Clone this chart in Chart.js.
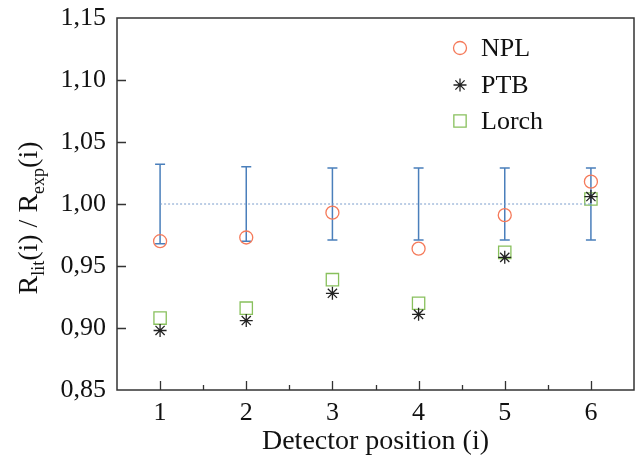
<!DOCTYPE html>
<html><head><meta charset="utf-8">
<script src="https://cdn.jsdelivr.net/npm/chart.js@4/dist/chart.umd.min.js"></script>
<style>html,body{margin:0;padding:0;background:#fff}#w{width:638px;height:463px}</style>
</head><body><div id="w"><canvas id="c" width="638" height="463"></canvas></div>
<script>
const positions = [1, 2, 3, 4, 5, 6];
const npl   = [0.970, 0.973, 0.993, 0.964, 0.991, 1.018];
const ptb   = [0.898, 0.906, 0.928, 0.911, 0.957, 1.006];
const lorch = [0.908, 0.916, 0.939, 0.920, 0.961, 1.004];
const refValue = 1.00;
const errHalf = [0.032, 0.030, 0.029, 0.029, 0.029, 0.029];
const xTicks = [1, 2, 3, 4, 5, 6];
const xMinorTicks = [1.5, 2.5, 3.5, 4.5, 5.5];
const yTicks = [0.85, 0.90, 0.95, 1.00, 1.05, 1.10, 1.15];
const seriesNames = ['NPL', 'PTB', 'Lorch'];
const xTitle = 'Detector position (i)';

const FONT = '"Liberation Serif", "DejaVu Serif", serif';
const blue = '#4a7fbb';
const toPts = arr => arr.map((v, i) => ({x: positions[i], y: v}));

const errorBars = {
  id: 'errorBars',
  beforeDatasetsDraw(chart) {
    const {ctx, scales: {x, y}} = chart;
    ctx.save();
    ctx.strokeStyle = blue; ctx.lineWidth = 1.5;
    positions.forEach((p, i) => {
      const px = x.getPixelForValue(p);
      const yt = y.getPixelForValue(refValue + errHalf[i]);
      const yb = y.getPixelForValue(refValue - errHalf[i]);
      ctx.beginPath();
      ctx.moveTo(px, yt); ctx.lineTo(px, yb);
      ctx.moveTo(px - 5, yt); ctx.lineTo(px + 5, yt);
      ctx.moveTo(px - 5, yb); ctx.lineTo(px + 5, yb);
      ctx.stroke();
    });
    ctx.restore();
  }
};

const innerTicks = {
  id: 'innerTicks',
  afterDraw(chart) {
    const {ctx, chartArea: a, scales: {x, y}} = chart;
    ctx.save();
    ctx.strokeStyle = '#333'; ctx.lineWidth = 1.3;
    ctx.beginPath();
    xTicks.forEach(t => { const px = Math.round(x.getPixelForValue(t)) + 0.5; ctx.moveTo(px, a.bottom); ctx.lineTo(px, a.bottom - 9); });
    xMinorTicks.forEach(t => { const px = Math.round(x.getPixelForValue(t)) + 0.5; ctx.moveTo(px, a.bottom); ctx.lineTo(px, a.bottom - 5); });
    yTicks.slice(1, -1).forEach(t => { const py = Math.round(y.getPixelForValue(t)) + 0.5; ctx.moveTo(a.left, py); ctx.lineTo(a.left + 9, py); });
    ctx.stroke();
    ctx.lineWidth = 1.5;
    ctx.strokeRect(a.left, a.top, a.right - a.left, a.bottom - a.top);
    ctx.restore();
  }
};

const yTitlePlugin = {
  id: 'yTitle',
  afterDraw(chart) {
    const {ctx, chartArea: a} = chart;
    const parts = [['R', 0], ['lit', 1], ['(i) / R', 0], ['exp', 1], ['(i)', 0]];
    const big = '28px ' + FONT, small = '18px ' + FONT;
    ctx.save();
    let total = 0;
    parts.forEach(([t, s]) => { ctx.font = s ? small : big; total += ctx.measureText(t).width; });
    ctx.translate(37, (a.top + a.bottom) / 2 + 14);
    ctx.rotate(-Math.PI / 2);
    ctx.fillStyle = '#111'; ctx.textBaseline = 'alphabetic';
    let xx = -total / 2;
    parts.forEach(([t, s]) => {
      ctx.font = s ? small : big;
      ctx.fillText(t, xx, s ? 7 : 0);
      xx += ctx.measureText(t).width;
    });
    ctx.restore();
  }
};

const legendPlugin = {
  id: 'customLegend',
  afterDraw(chart) {
    const {ctx} = chart;
    ctx.save();
    const ys = [48, 85, 121];
    chart.data.datasets.filter(d => seriesNames.includes(d.label)).forEach((d, i) => {
      ctx.strokeStyle = d.borderColor; ctx.fillStyle = 'rgba(0,0,0,0)'; ctx.lineWidth = d.borderWidth;
      Chart.helpers.drawPoint(ctx, {pointStyle: d.pointStyle, radius: d.pointRadius, borderWidth: d.borderWidth, rotation: 0}, 460, ys[i]);
      ctx.fillStyle = '#111'; ctx.font = '26px ' + FONT; ctx.textBaseline = 'middle';
      ctx.fillText(d.label, 481, ys[i] + 1);
    });
    ctx.restore();
  }
};

new Chart(document.getElementById('c'), {
  type: 'scatter',
  data: {
    datasets: [
      {type: 'line', label: 'ref', data: [{x: positions[0], y: refValue}, {x: positions[positions.length - 1], y: refValue}],
       borderColor: '#7a9dcc', borderWidth: 1, borderDash: [2, 2], pointRadius: 0, fill: false},
      {label: seriesNames[0], data: toPts(npl), pointStyle: 'circle', pointRadius: 6.5, borderWidth: 1.3,
       borderColor: '#f57a5a', backgroundColor: 'rgba(0,0,0,0)'},
      {label: seriesNames[1], data: toPts(ptb), pointStyle: 'star', pointRadius: 6.5, borderWidth: 1.3,
       borderColor: '#222', backgroundColor: 'rgba(0,0,0,0)'},
      {label: seriesNames[2], data: toPts(lorch), pointStyle: 'rect', pointRadius: 8.7, borderWidth: 1.3,
       borderColor: '#88c05c', backgroundColor: 'rgba(0,0,0,0)'}
    ]
  },
  options: {
    responsive: false, animation: false, devicePixelRatio: 1,
    layout: {autoPadding: false, padding: {left: 0, right: 4, top: 18, bottom: 0}},
    plugins: {legend: {display: false}, tooltip: {enabled: false}},
    scales: {
      x: {
        type: 'linear', min: 0.5, max: 6.5,
        afterBuildTicks: s => { s.ticks = xTicks.map(v => ({value: v})); },
        afterFit: s => { s.height = 73; s.paddingLeft = 0; s.paddingRight = 0; },
        grid: {display: false, drawTicks: false},
        border: {display: false},
        ticks: {padding: 8, color: '#111', font: {family: FONT, size: 26}, callback: v => String(v)},
        title: {display: true, text: xTitle, color: '#111', font: {family: FONT, size: 28}, padding: {top: 0, bottom: 5}}
      },
      y: {
        type: 'linear', min: 0.85, max: 1.15,
        afterBuildTicks: s => { s.ticks = yTicks.map(v => ({value: v})); },
        afterFit: s => { s.width = 117; s.paddingTop = 0; s.paddingBottom = 0; },
        grid: {display: false, drawTicks: false},
        border: {display: false},
        ticks: {padding: 11, color: '#111', font: {family: FONT, size: 26}, callback: v => v.toFixed(2).replace('.', ',')}
      }
    }
  },
  plugins: [errorBars, innerTicks, yTitlePlugin, legendPlugin]
});
</script>
</body></html>
